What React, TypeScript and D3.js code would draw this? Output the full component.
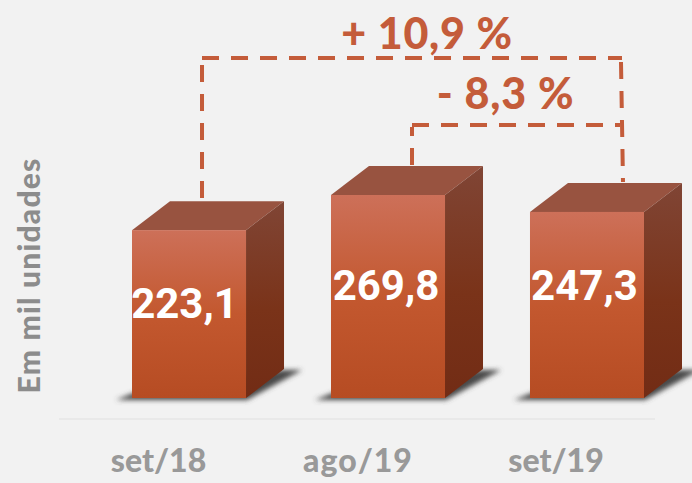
import React from 'react';
import * as d3 from 'd3';

const categories = ['set/18', 'ago/19', 'set/19'];
const values = [223.1, 269.8, 247.3];
const valueLabels = ['223,1', '269,8', '247,3'];
const labelShift = [4, 3.5, -5];
const labelNudge = [-4.5, -2, -2.5];
const yTitle = 'Em mil unidades';

const width = 692;
const height = 483;
const baseY = 398;
const depthX = 38;
const depthY = 29;
const ORANGE = '#c45c3a';

const x = d3.scaleBand<string>().domain(categories).range([132, 644]).paddingInner(0.427).paddingOuter(0);
const y = d3.scaleLinear().domain([0, 269.8]).range([baseY, 195]);

const poly = (pts: [number, number][]) => d3.line()(pts) + 'Z';

// where the dashed brackets leave each bar's top face
const anchor = (i: number) => x(categories[i])! + x.bandwidth() / 2 + [13, 24, 35][i];

export default function App() {
    const bw = x.bandwidth();
    // each leg is its own path so the dashes restart like in the original
    const brackets: [number, number][][] = [
        [[anchor(0), 198], [anchor(0), 60]],
        [[anchor(0), 58], [anchor(2), 58]],
        [[anchor(2) - 1, 62], [anchor(2) + 1, 182]],
        [[anchor(1), 165], [anchor(1), 127]],
        [[anchor(1), 125], [anchor(2) - 2, 125]],
    ];

    return (
        <svg width={width} height={height} style={{ position: 'fixed', left: 0, top: 0, background: '#f2f2f2' }}>
            <defs>
                <linearGradient id="front" x1="0" y1="0" x2="0" y2="1">
                    <stop offset="0" stopColor="#cd7059" />
                    <stop offset="0.5" stopColor="#c3582f" />
                    <stop offset="1" stopColor="#b64c23" />
                </linearGradient>
                <linearGradient id="side" x1="0" y1="0" x2="0" y2="1">
                    <stop offset="0" stopColor="#804535" />
                    <stop offset="0.55" stopColor="#7a3319" />
                    <stop offset="1" stopColor="#722c15" />
                </linearGradient>
                <filter id="blur" x="-20%" y="-40%" width="140%" height="180%">
                    <feGaussianBlur stdDeviation="2.8" />
                </filter>
            </defs>

            <line x1={59} x2={655} y1={419} y2={419} stroke="#e9e9e9" strokeWidth={2} />

            {categories.map((c, i) => {
                const x0 = x(c)!;
                const x1 = x0 + bw;
                const top = y(values[i]);
                return (
                    <g key={c}>
                        <path
                            d={poly([
                                [x0 - 16, baseY + 2],
                                [x1 + 1, baseY + 2],
                                [x1 + depthX + 18, baseY - depthY + 1],
                                [x1 + depthX - 2, baseY - depthY + 1],
                                [x0 + 4, baseY - 6],
                            ])}
                            fill="#4a4a4a"
                            filter="url(#blur)"
                        />
                        <path
                            d={poly([
                                [x0, top],
                                [x0 + depthX, top - depthY],
                                [x1 + depthX, top - depthY],
                                [x1, top],
                            ])}
                            fill="#985340"
                        />
                        <path
                            d={poly([
                                [x1, top],
                                [x1 + depthX, top - depthY],
                                [x1 + depthX, baseY - depthY],
                                [x1, baseY],
                            ])}
                            fill="url(#side)"
                        />
                        <rect x={x0} y={top} width={bw} height={baseY - top} fill="url(#front)" />
                        <text
                            x={x0 + bw / 2 + labelNudge[i]}
                            y={(top + baseY) / 2 + labelShift[i]}
                            textAnchor="middle"
                            fontFamily="Roboto"
                            fontWeight={700}
                            fontSize={42}
                            fill="#fff"
                        >
                            {valueLabels[i]}
                        </text>
                        <text
                            x={x0 + bw / 2 - [30.5, 30, 31][i]}
                            y={472}
                            textAnchor="middle"
                            fontFamily="Lato"
                            fontWeight={900}
                            fontSize={32}
                            letterSpacing={i === 1 ? 1 : 0}
                            fill="#999999"
                        >
                            {c}
                        </text>
                    </g>
                );
            })}

            {brackets.map((seg, i) => (
                <path key={i} d={d3.line()(seg)!} fill="none" stroke={ORANGE} strokeWidth={4} strokeDasharray="17 12" />
            ))}

            <text x={427} y={49} textAnchor="middle" fontFamily="Lato" fontWeight={900} fontSize={43} letterSpacing={0.7} fill={ORANGE}>
                + 10,9 %
            </text>
            <text x={505.5} y={109} textAnchor="middle" fontFamily="Lato" fontWeight={900} fontSize={43} letterSpacing={0.8} fill={ORANGE}>
                - 8,3 %
            </text>

            <text
                transform="translate(40,275.5) rotate(-90)"
                textAnchor="middle"
                fontFamily="Lato"
                fontWeight={900}
                fontSize={30}
                letterSpacing={1.2}
                fill="#8c8c8c"
            >
                {yTitle}
            </text>
        </svg>
    );
}
